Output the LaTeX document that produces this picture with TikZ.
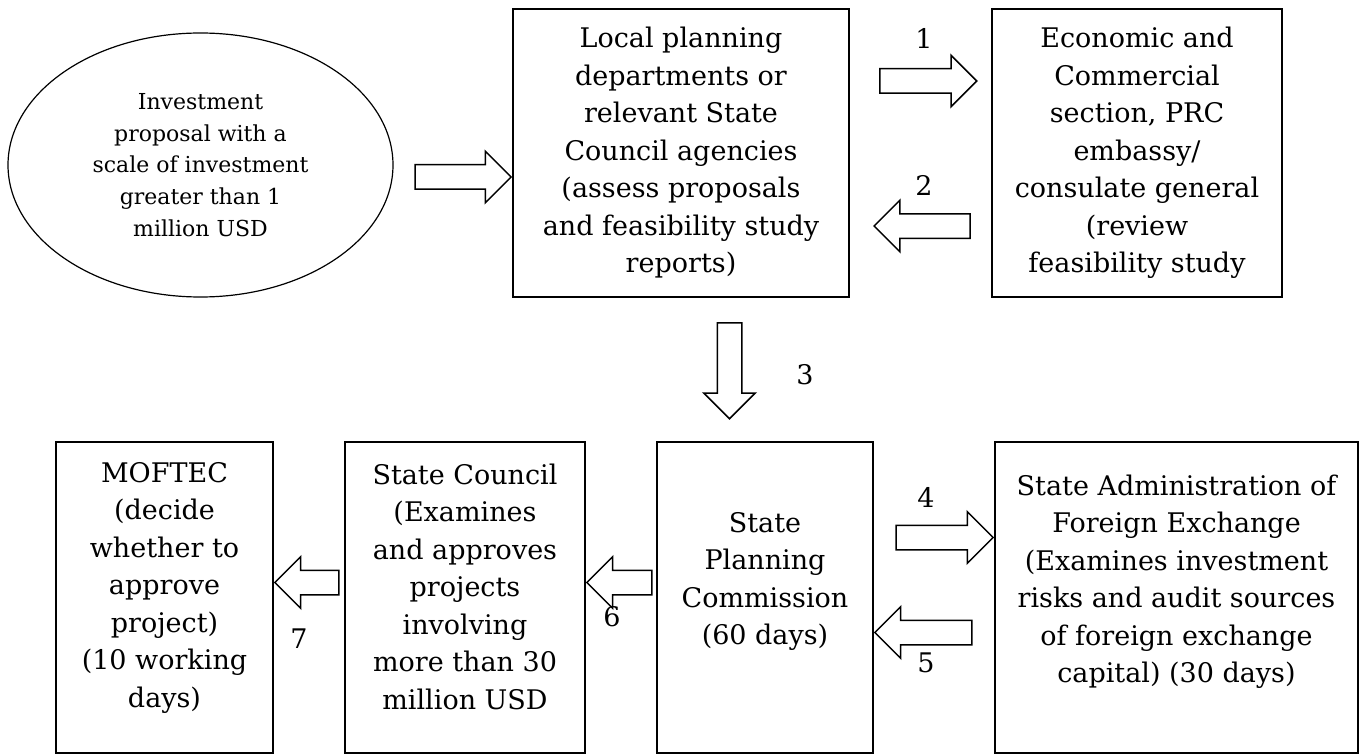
\documentclass[tikz,border=0pt]{standalone}
\usepackage{fontspec}
\setmainfont{DejaVu Serif}
\usepackage{tikz}
\usetikzlibrary{shapes.geometric,shapes.arrows,positioning}

\begin{document}
\begin{tikzpicture}[x=1pt, y=-1pt,
    box/.style={draw, line width=1.6pt, inner sep=0pt},
    boxtext/.style={align=center, font=\fontsize{27}{37.5}\selectfont},
    fatarrow/.style={draw, line width=1.5pt, single arrow, inner sep=11.5pt,
        single arrow head extend=13.5pt, minimum height=96pt},
    num/.style={font=\fontsize{27}{32}\selectfont}]

    \useasboundingbox (0,0) rectangle (1359,754);

    % Proposal
    \node[draw, ellipse, line width=1.2pt, minimum width=385pt, minimum height=264pt,
        inner sep=0pt, align=center, font=\fontsize{22}{31.7}\selectfont] (prop) at (200.5,165)
        {Investment\\proposal with a\\scale of investment\\greater than 1\\million USD};

    % Top row
    \node[box, minimum width=336pt, minimum height=288pt] (local) at (681,153) {};
    \node[boxtext] (local-text) at (local.center)
        {Local planning\\departments or\\relevant State\\Council agencies\\(assess proposals\\and feasibility study\\reports)};

    \node[box, minimum width=290pt, minimum height=288pt] (embassy) at (1137,153) {};
    \node[boxtext] (embassy-text) at (embassy.center)
        {Economic and\\Commercial\\section, PRC\\embassy/\\consulate general\\(review\\feasibility study};

    % Bottom row
    \node[box, minimum width=217pt, minimum height=311pt] (moftec) at (164.5,597.5) {};
    \node[boxtext] (moftec-text) at ([yshift=10pt]moftec.center)
        {MOFTEC\\(decide\\whether to\\approve\\project)\\(10 working\\days)};

    \node[box, minimum width=240pt, minimum height=311pt] (council) at (465,597.5) {};
    \node[boxtext] (council-text) at ([yshift=11pt]council.center)
        {State Council\\(Examines\\and approves\\projects\\involving\\more than 30\\million USD};

    \node[box, minimum width=216pt, minimum height=311pt] (spc) at (765,597.5) {};
    \node[boxtext] (spc-text) at ([yshift=16pt]spc.center)
        {State\\Planning\\Commission\\(60 days)};

    \node[box, minimum width=363pt, minimum height=311pt] (safe) at (1176.5,597.5) {};
    \node[boxtext] (safe-text) at ([yshift=16pt]safe.center)
        {State Administration of\\Foreign Exchange\\(Examines investment\\risks and audit sources\\of foreign exchange\\capital) (30 days)};

    % Block arrows
    \node[fatarrow, anchor=tip] (a0) at ([yshift=-24pt]local.west) {};
    \node[fatarrow, minimum height=97pt, anchor=tail] (a1) at (879,81) {};
    \node[fatarrow, shape border rotate=180, anchor=tip] (a2) at (873,226) {};
    \node[fatarrow, shape border rotate=270, anchor=tail] (a3) at (729.5,322) {};
    \node[fatarrow, minimum height=97pt, anchor=tip] (a4) at ([yshift=60pt]safe.west) {};
    \node[fatarrow, minimum height=97pt, shape border rotate=180, anchor=tip] (a5) at ([yshift=-35pt]spc.east) {};
    \node[fatarrow, minimum height=65pt, shape border rotate=180, anchor=tip] (a6) at ([yshift=15pt]council.east) {};
    \node[fatarrow, minimum height=64pt, shape border rotate=180, anchor=tip] (a7) at ([yshift=15pt]moftec.east) {};

    % Step numbers
    \node[num] (n1) at (924,38) {1};
    \node[num] (n2) at (924,185) {2};
    \node[num] (n3) at (805,375) {3};
    \node[num] (n4) at (926,497) {4};
    \node[num] (n5) at (926,663) {5};
    \node[num] (n6) at (612,617) {6};
    \node[num] (n7) at (299,639) {7};
\end{tikzpicture}
\end{document}
